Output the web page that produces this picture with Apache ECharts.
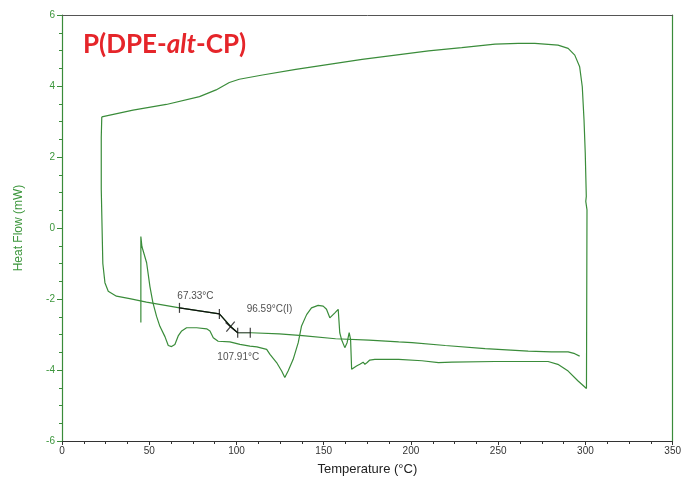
<!DOCTYPE html>
<html>
<head>
<meta charset="utf-8">
<script src="https://cdn.jsdelivr.net/npm/echarts/dist/echarts.min.js"></script>
<style>
  html, body { margin: 0; padding: 0; background: #fff; }
  #chart { width: 684px; height: 481px; }
</style>
</head>
<body>
<div id="chart"></div>
<script>
// DSC trace: [temperature °C, heat flow mW]
const firstHeating = [
  [45.2, -2.66], [45.2, -0.24], [45.8, -0.52], [46.9, -0.55], [48.5, -0.98], [50.4, -1.65],
  [52.1, -2.10], [54.2, -2.49], [56.1, -2.77], [59.0, -3.06], [60.9, -3.31], [62.8, -3.34],
  [64.7, -3.28], [66.6, -3.04], [68.6, -2.90], [71.4, -2.81], [77.2, -2.81], [82.9, -2.84],
  [84.8, -2.90], [86.7, -3.09], [89.5, -3.19], [96.2, -3.21], [102.0, -3.28], [107.7, -3.33],
  [111.7, -3.35], [117.3, -3.42], [119.2, -3.56], [123.0, -3.79], [125.9, -4.03], [127.7, -4.21],
  [129.6, -4.03], [132.5, -3.70], [135.4, -3.23], [137.3, -2.76], [140.2, -2.44], [143.0, -2.25],
  [146.8, -2.18], [149.7, -2.20], [151.6, -2.29], [153.5, -2.53], [154.5, -2.58], [156.4, -2.39],
  [158.3, -2.29], [159.2, -2.95], [160.2, -3.14], [162.1, -3.37], [163.4, -3.23], [164.6, -2.95],
  [165.4, -3.14], [166.0, -3.98], [166.9, -3.93], [168.8, -3.89], [170.7, -3.84], [172.6, -3.78],
  [173.6, -3.84], [174.9, -3.79], [176.4, -3.72], [179.3, -3.70], [193.0, -3.70], [206.3, -3.74],
  [215.8, -3.79], [223.4, -3.78], [248.2, -3.76], [278.6, -3.76], [284.2, -3.84], [290.1, -4.03],
  [295.8, -4.31], [300.6, -4.52]
];
const cooling = [
  [300.6, -4.52], [300.9, 0.51], [300.2, 0.75], [300.5, 0.89], [299.9, 2.11], [299.2, 3.04],
  [298.2, 3.98], [296.7, 4.54], [293.9, 4.87], [290.1, 5.06], [284.3, 5.15], [276.7, 5.18],
  [271.0, 5.20], [261.5, 5.20], [248.2, 5.18], [229.1, 5.08], [210.1, 4.99], [191.1, 4.87],
  [172.0, 4.75], [153.0, 4.61], [134.0, 4.47], [114.9, 4.31], [101.6, 4.19], [95.9, 4.10],
  [88.3, 3.89], [78.8, 3.70], [59.8, 3.48], [40.7, 3.32], [22.8, 3.13]
];
const secondHeating = [
  [22.8, 3.13], [22.5, 2.55], [22.5, 1.10], [23.4, -1.00], [24.6, -1.54], [26.5, -1.78],
  [31.2, -1.92], [38.8, -1.99], [48.4, -2.09], [67.4, -2.25], [90.2, -2.42], [96.9, -2.78],
  [100.7, -2.95], [108.3, -2.95], [124.5, -2.98], [137.8, -3.03], [156.8, -3.12], [175.9, -3.16],
  [193.0, -3.21], [200.6, -3.23], [219.7, -3.31], [242.5, -3.40], [267.2, -3.47], [280.5, -3.49],
  [290.1, -3.49], [293.9, -3.54], [296.7, -3.61]
];

// glass transition analysis (tangents, limits, labels)
const tangentLine = [[67.33, -2.25], [90.2, -2.42], [96.59, -2.78], [100.7, -2.95]];
const tangentFoot = [[100.7, -2.95], [107.91, -2.95]];
const limitTicks = [[67.33, -2.25], [90.2, -2.42], [100.7, -2.95], [107.91, -2.95]];
const inflection = [[96.59, -2.78]];
const tgLabels = ['67.33°C', '96.59°C(I)', '107.91°C'];

const xTicks = [0, 50, 100, 150, 200, 250, 300, 350];
const yTicks = [-6, -4, -2, 0, 2, 4, 6];

const green = '#3a8c3a';
const chart = echarts.init(document.getElementById('chart'));

const traceStyle = {
  type: 'line',
  showSymbol: false,
  symbol: 'none',
  lineStyle: { color: green, width: 1.2 },
  z: 2
};

const option = {
  animation: false,
  title: {
    left: 78,
    top: 27,
    text: '{a|P(DPE-}{b|alt}{a|-CP)}',
    textStyle: {
      rich: {
        a: { fontFamily: 'Lato', fontWeight: 'bold', fontSize: 26, color: '#e5252a' },
        b: { fontFamily: 'Lato', fontWeight: 'bold', fontStyle: 'italic', fontSize: 26, color: '#e5252a' }
      }
    }
  },
  grid: { left: 62, right: 9, top: 15, bottom: 39 },
  xAxis: [
    {
      type: 'value',
      min: xTicks[0],
      max: xTicks[xTicks.length - 1],
      interval: 50,
      name: 'Temperature (°C)',
      nameLocation: 'middle',
      nameGap: 22,
      nameTextStyle: { color: '#222', fontSize: 13, fontFamily: 'Liberation Sans' },
      axisLine: { onZero: false, lineStyle: { color: '#333', width: 1 } },
      axisTick: { length: 4, lineStyle: { color: '#333' } },
      minorTick: { show: true, splitNumber: 4, length: 3, lineStyle: { color: '#333' } },
      axisLabel: { color: '#333', fontSize: 10, margin: 5, fontFamily: 'Liberation Sans' },
      splitLine: { show: false }
    },
    {
      type: 'value',
      position: 'top',
      min: 0,
      max: 350,
      axisLine: { onZero: false, lineStyle: { color: '#555', width: 1 } },
      axisTick: { show: false },
      axisLabel: { show: false },
      splitLine: { show: false }
    }
  ],
  yAxis: [
    {
      type: 'value',
      min: yTicks[0],
      max: yTicks[yTicks.length - 1],
      interval: 2,
      name: 'Heat Flow (mW)',
      nameLocation: 'middle',
      nameGap: 37,
      nameTextStyle: { color: '#3c963c', fontSize: 12, fontFamily: 'Liberation Sans' },
      axisLine: { onZero: false, lineStyle: { color: green, width: 1.2 } },
      axisTick: { length: 5, lineStyle: { color: green } },
      minorTick: { show: true, splitNumber: 4, length: 3, lineStyle: { color: green } },
      axisLabel: { color: '#3c963c', fontSize: 10, margin: 7, fontFamily: 'Liberation Sans' },
      splitLine: { show: false }
    },
    {
      type: 'value',
      position: 'right',
      min: -6,
      max: 6,
      axisLine: { onZero: false, lineStyle: { color: green, width: 1.2 } },
      axisTick: { show: false },
      axisLabel: { show: false },
      splitLine: { show: false }
    }
  ],
  series: [
    Object.assign({ name: 'first heating', data: firstHeating }, traceStyle),
    Object.assign({ name: 'cooling', data: cooling }, traceStyle),
    Object.assign({ name: 'second heating', data: secondHeating }, traceStyle),
    {
      name: 'tangent',
      type: 'line',
      data: tangentLine,
      symbol: 'none',
      lineStyle: { color: '#111', width: 1.2 },
      z: 3
    },
    {
      name: 'tangent foot',
      type: 'line',
      data: tangentFoot,
      symbol: 'none',
      lineStyle: { color: '#555', width: 1 },
      z: 3
    },
    {
      // short vertical limit marks
      name: 'limits',
      type: 'scatter',
      data: limitTicks,
      symbol: 'rect',
      symbolSize: [1.2, 10],
      itemStyle: { color: '#111' },
      z: 4,
      label: {
        show: true,
        color: '#222',
        fontSize: 10,
        fontFamily: 'Liberation Sans',
        formatter: (p) => {
          if (p.dataIndex === 0) return tgLabels[0];
          if (p.dataIndex === 3) return tgLabels[2];
          return '';
        },
        position: 'inside'
      },
      labelLayout: (params) => {
        if (params.dataIndex === 0) return { dx: 16, dy: -12 };
        if (params.dataIndex === 3) return { dx: -12, dy: 25 };
        return {};
      }
    },
    {
      // inflection cross
      name: 'inflection a',
      type: 'scatter',
      data: inflection,
      symbol: 'rect',
      symbolSize: [1.2, 13],
      symbolRotate: 50,
      itemStyle: { color: '#111' },
      z: 4,
      label: {
        show: true,
        color: '#222',
        fontSize: 10,
        fontFamily: 'Liberation Sans',
        formatter: () => tgLabels[1],
        position: 'inside'
      },
      labelLayout: { dx: 39, dy: -17 }
    },
    {
      name: 'inflection b',
      type: 'scatter',
      data: inflection,
      symbol: 'rect',
      symbolSize: [1.2, 13],
      symbolRotate: -40,
      itemStyle: { color: '#111' },
      z: 4
    }
  ]
};

chart.setOption(option);
</script>
</body>
</html>
